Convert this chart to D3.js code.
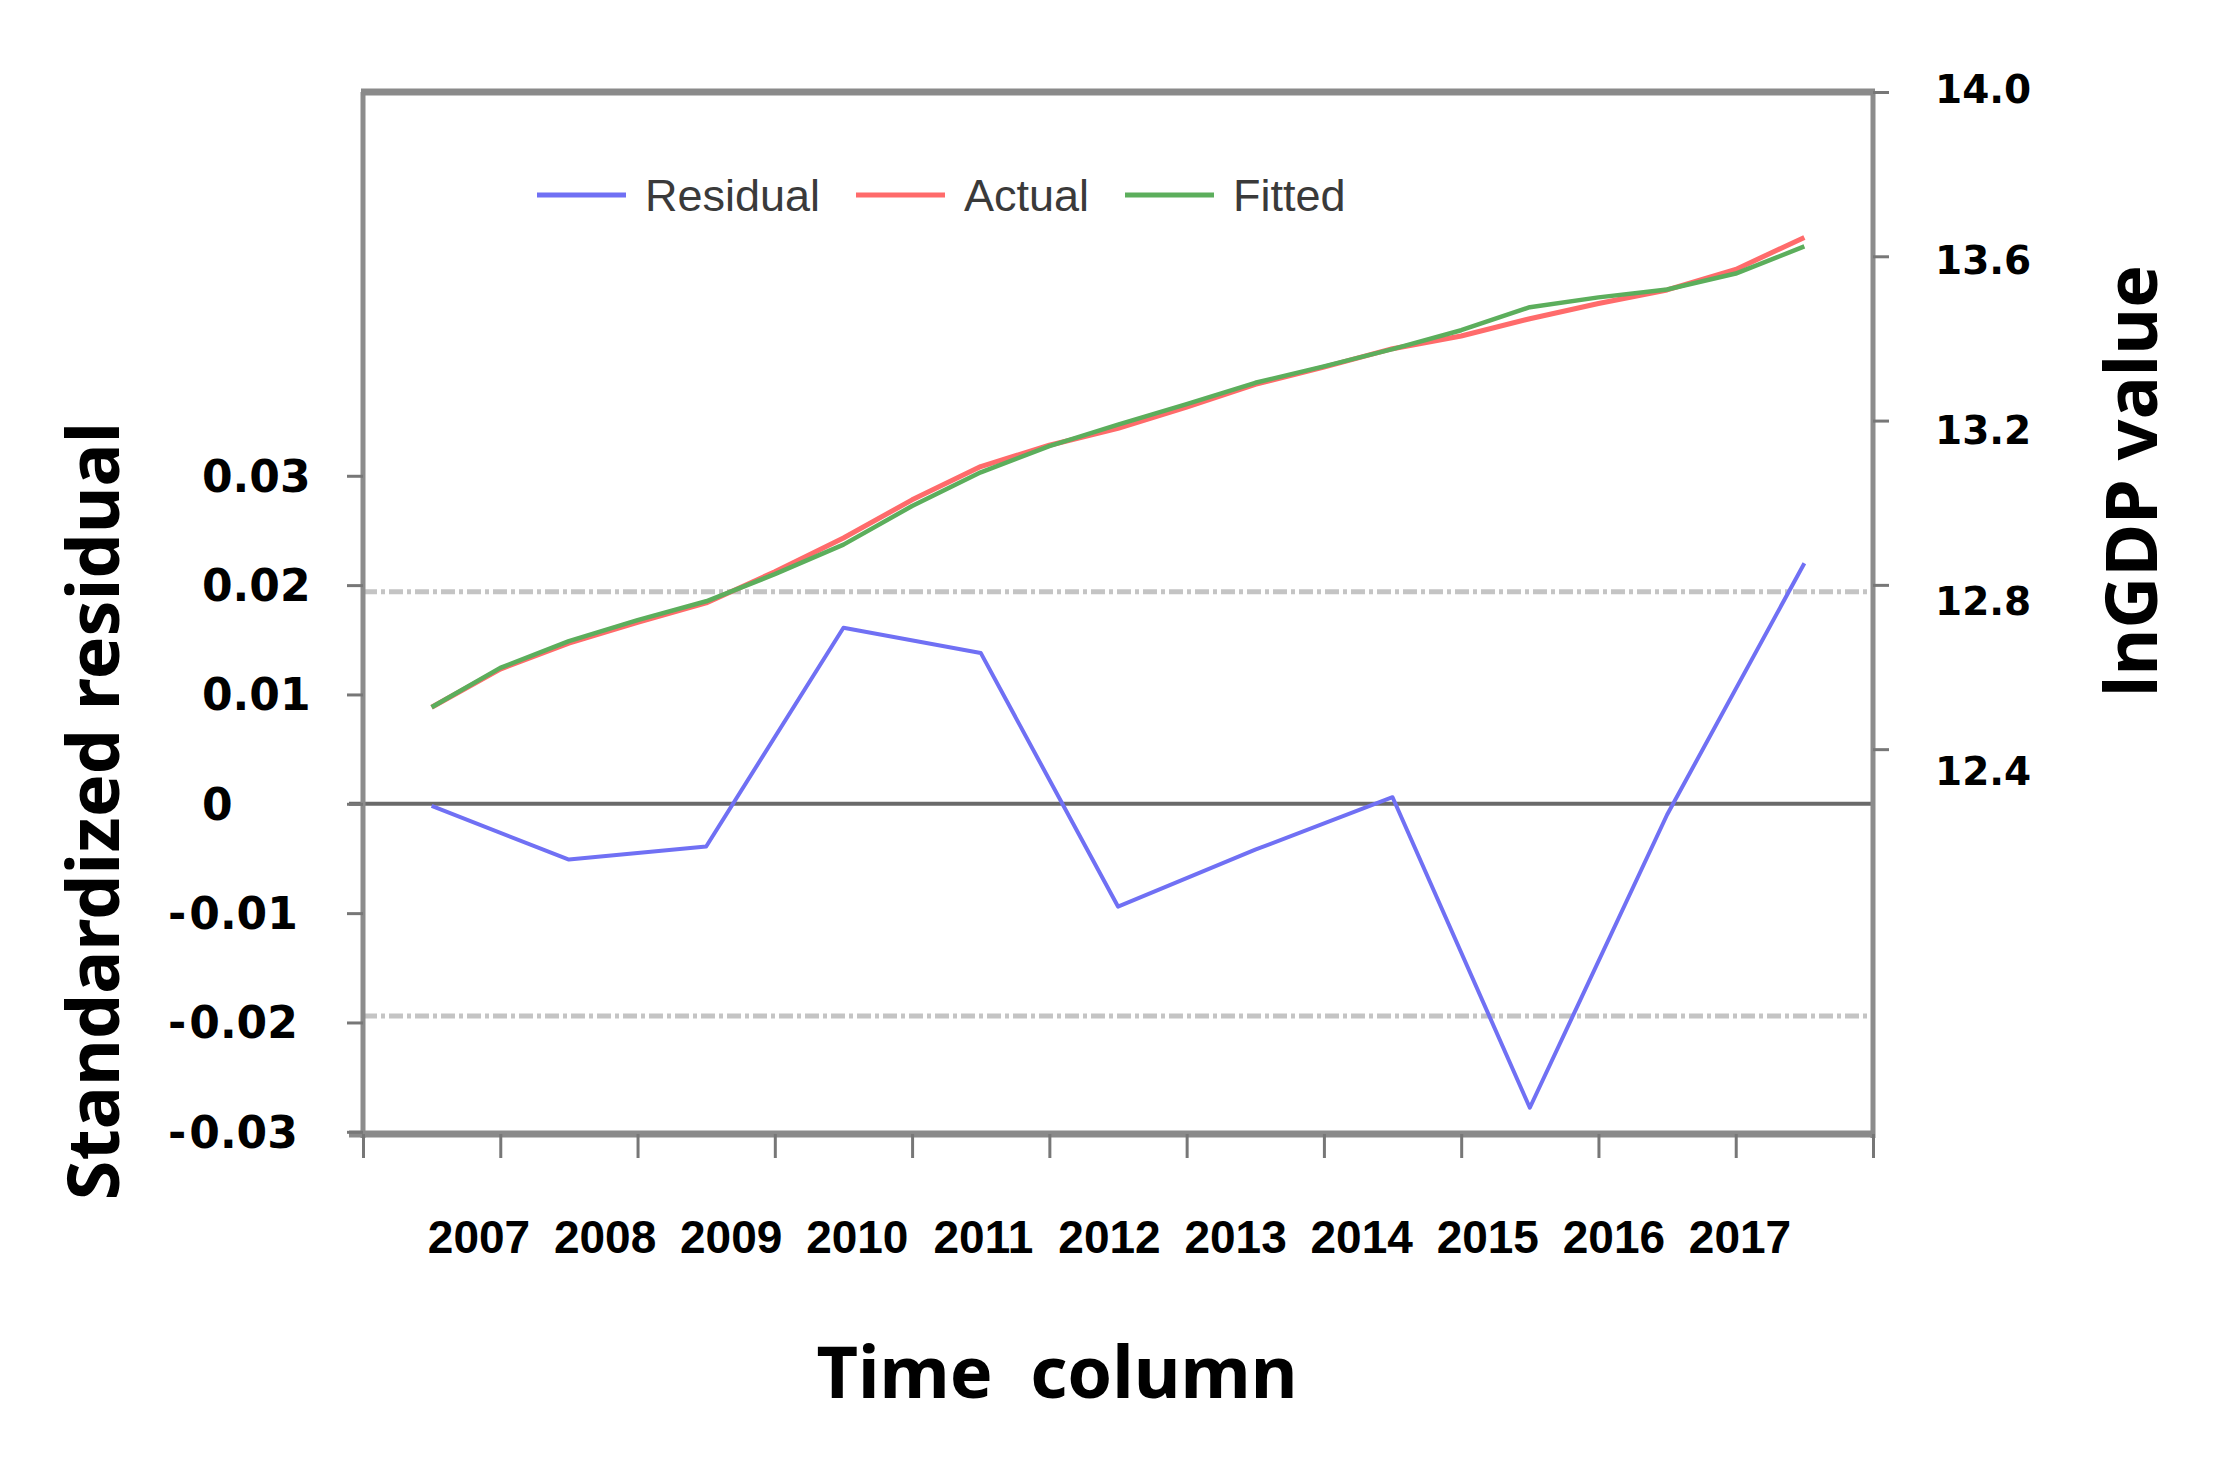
<!DOCTYPE html>
<html>
<head>
<meta charset="utf-8">
<script src="https://cdn.jsdelivr.net/npm/d3@7"></script>
<style>
  html, body { margin: 0; padding: 0; background: #fff; }
  svg { display: block; }
</style>
</head>
<body>
<svg id="chart" width="2214" height="1469"></svg>
<script>
// ---------------- data ----------------
const years = [2007, 2008, 2009, 2010, 2011, 2012, 2013, 2014, 2015, 2016, 2017];
const residual = [-0.0002, -0.0051, -0.0039, 0.0161, 0.0138, -0.0094, -0.0042, 0.0006, -0.0278, -0.0010, 0.0220];

const halfYears = [2007, 2007.5, 2008, 2008.5, 2009, 2009.5, 2010, 2010.5, 2011, 2011.5, 2012,
                   2012.5, 2013, 2013.5, 2014, 2014.5, 2015, 2015.5, 2016, 2016.5, 2017];
const actual = [12.502, 12.595, 12.658, 12.709, 12.756, 12.832, 12.914, 13.007, 13.088, 13.140, 13.181,
                13.233, 13.288, 13.330, 13.375, 13.406, 13.448, 13.485, 13.518, 13.568, 13.646];
const fitted = [12.502, 12.598, 12.663, 12.714, 12.760, 12.826, 12.898, 12.992, 13.074, 13.138, 13.190,
                13.240, 13.292, 13.332, 13.374, 13.420, 13.476, 13.500, 13.519, 13.558, 13.624];

const leftTicks = [0.03, 0.02, 0.01, 0, -0.01, -0.02, -0.03];
const leftTickLabels = ["0.03", "0.02", "0.01", "0", "-0.01", "-0.02", "-0.03"];
const rightTicks = [12.4, 12.8, 13.2, 13.6, 14.0];
const rightTickLabels = ["12.4", "12.8", "13.2", "13.6", "14.0"];
const xTickBounds = [2006.5, 2007.5, 2008.5, 2009.5, 2010.5, 2011.5, 2012.5, 2013.5, 2014.5, 2015.5, 2016.5, 2017.5];
const yearLabels = ["2007", "2008", "2009", "2010", "2011", "2012", "2013", "2014", "2015", "2016", "2017"];
const seBand = [0.0194, -0.0194];

const seriesNames = ["Residual", "Actual", "Fitted"];
const seriesColors = ["#7070f4", "#ff6b6b", "#5cae5c"];

// ---------------- layout ----------------
const svg = d3.select("#chart");
svg.append("rect").attr("width", 2214).attr("height", 1469).attr("fill", "#fff");

const L = 363, R = 1873, T = 92, B = 1134;

const x = d3.scaleLinear().domain([2006.5, 2017.5]).range([L, R]);
const yL = d3.scaleLinear().domain([-0.0302, 0.0651]).range([B, T]);
const yR = d3.scaleLinear().domain([11.463, 14.0]).range([B, T]);
// the right-hand labels sit on their own, slightly wider spacing
const yRLab = d3.scaleLinear().domain([12.4, 14.0]).range([771, 89]);
const xLab = d3.scalePoint().domain(yearLabels).range([479, 1740]);

// SE dashed lines
svg.append("g").selectAll("line").data(seBand).join("line")
  .attr("x1", L).attr("x2", R)
  .attr("y1", d => yL(d)).attr("y2", d => yL(d))
  .attr("stroke", "#c4c4c4").attr("stroke-width", 5)
  .attr("stroke-dasharray", "14,4,4,4");

// zero line
svg.append("line")
  .attr("x1", L - 14).attr("x2", R)
  .attr("y1", yL(0)).attr("y2", yL(0))
  .attr("stroke", "#6a6a6a").attr("stroke-width", 4);

// frame
const frame = svg.append("g").attr("fill", "none");
frame.append("line").attr("x1", L).attr("x2", L).attr("y1", T).attr("y2", B + 4)
  .attr("stroke", "#8c8c8c").attr("stroke-width", 5);
frame.append("line").attr("x1", R).attr("x2", R).attr("y1", T).attr("y2", B + 4)
  .attr("stroke", "#8c8c8c").attr("stroke-width", 5);
frame.append("line").attr("x1", L - 2).attr("x2", R + 2).attr("y1", T).attr("y2", T)
  .attr("stroke", "#8a8a8a").attr("stroke-width", 7);
frame.append("line").attr("x1", L - 14).attr("x2", R + 2).attr("y1", B).attr("y2", B)
  .attr("stroke", "#8a8a8a").attr("stroke-width", 7);

// axes ticks
const axX = svg.append("g").attr("transform", `translate(0,${B})`)
  .call(d3.axisBottom(x).tickValues(xTickBounds).tickSize(24).tickFormat(""));
axX.select(".domain").remove();
axX.selectAll(".tick line").attr("stroke", "#777").attr("stroke-width", 3);

const axL = svg.append("g").attr("transform", `translate(${L},0)`)
  .call(d3.axisLeft(yL).tickValues(leftTicks).tickSize(16).tickFormat(""));
axL.select(".domain").remove();
axL.selectAll(".tick line").attr("stroke", "#777").attr("stroke-width", 3);

const axR = svg.append("g").attr("transform", `translate(${R},0)`)
  .call(d3.axisRight(yR).tickValues(rightTicks).tickSize(16).tickFormat(""));
axR.select(".domain").remove();
axR.selectAll(".tick line").attr("stroke", "#777").attr("stroke-width", 3);

// left tick labels
const numFont = "'DejaVu Sans', Verdana, sans-serif";
const lt = svg.append("g").attr("font-family", numFont).attr("font-weight", "bold")
  .attr("font-size", 44).attr("fill", "#000");
leftTicks.forEach((v, i) => {
  const lab = leftTickLabels[i];
  const t = lt.append("text").attr("y", yL(v)).attr("dy", "0.36em");
  if (lab.startsWith("-")) {
    t.attr("x", 168);
    t.append("tspan").text("-");
    t.append("tspan").attr("dx", 3).text(lab.slice(1));
  } else {
    t.attr("x", 202).text(lab);
  }
});

// right tick labels
svg.append("g").attr("font-family", numFont).attr("font-weight", "bold")
  .attr("font-size", 39).attr("fill", "#000")
  .selectAll("text").data(rightTicks).join("text")
  .attr("x", 1935).attr("y", d => yRLab(d)).attr("dy", "0.36em")
  .text((d, i) => rightTickLabels[i]);

// year labels
svg.append("g").attr("font-family", "'Liberation Sans', Arial, sans-serif").attr("font-weight", "bold")
  .attr("font-size", 46).attr("fill", "#000").attr("text-anchor", "middle")
  .selectAll("text").data(yearLabels).join("text")
  .attr("x", d => xLab(d)).attr("y", 1253)
  .text(d => d);

// axis titles
const titleFont = "'Noto Sans', 'Open Sans', sans-serif";
svg.append("text")
  .attr("transform", "translate(94,811) rotate(-90)")
  .attr("text-anchor", "middle").attr("dy", "0.35em")
  .attr("font-family", titleFont).attr("font-weight", "bold").attr("font-size", 72)
  .attr("fill", "#000").text("Standardized residual");
svg.append("text")
  .attr("transform", "translate(2132,481) rotate(-90)")
  .attr("text-anchor", "middle").attr("dy", "0.35em")
  .attr("font-family", titleFont).attr("font-weight", "bold").attr("font-size", 72)
  .attr("fill", "#000").text("lnGDP value");
svg.append("text")
  .attr("x", 1057).attr("y", 1398)
  .attr("text-anchor", "middle").style("white-space", "pre")
  .attr("font-family", titleFont).attr("font-weight", "bold").attr("font-size", 72)
  .attr("fill", "#000").text("Time  column");

// lines
const lineR = d3.line().x((d, i) => x(years[i])).y(d => yL(d));
const lineG = d3.line().x((d, i) => x(halfYears[i])).y(d => yR(d));

svg.append("path").datum(residual).attr("d", lineR)
  .attr("fill", "none").attr("stroke", seriesColors[0]).attr("stroke-width", 4)
  .attr("stroke-linejoin", "round");
svg.append("path").datum(actual).attr("d", lineG)
  .attr("fill", "none").attr("stroke", seriesColors[1]).attr("stroke-width", 5)
  .attr("stroke-linejoin", "round");
svg.append("path").datum(fitted).attr("d", lineG)
  .attr("fill", "none").attr("stroke", seriesColors[2]).attr("stroke-width", 4.5)
  .attr("stroke-linejoin", "round");

// legend
const legendX = [537, 856, 1125];
const lg = svg.append("g").attr("font-family", "'Liberation Sans', Arial, sans-serif")
  .attr("font-size", 45).attr("fill", "#3a3a3a");
seriesNames.forEach((n, i) => {
  lg.append("line").attr("x1", legendX[i]).attr("x2", legendX[i] + 89)
    .attr("y1", 195).attr("y2", 195)
    .attr("stroke", seriesColors[i]).attr("stroke-width", 5);
  lg.append("text").attr("x", legendX[i] + 108).attr("y", 211).text(n);
});
</script>
</body>
</html>
